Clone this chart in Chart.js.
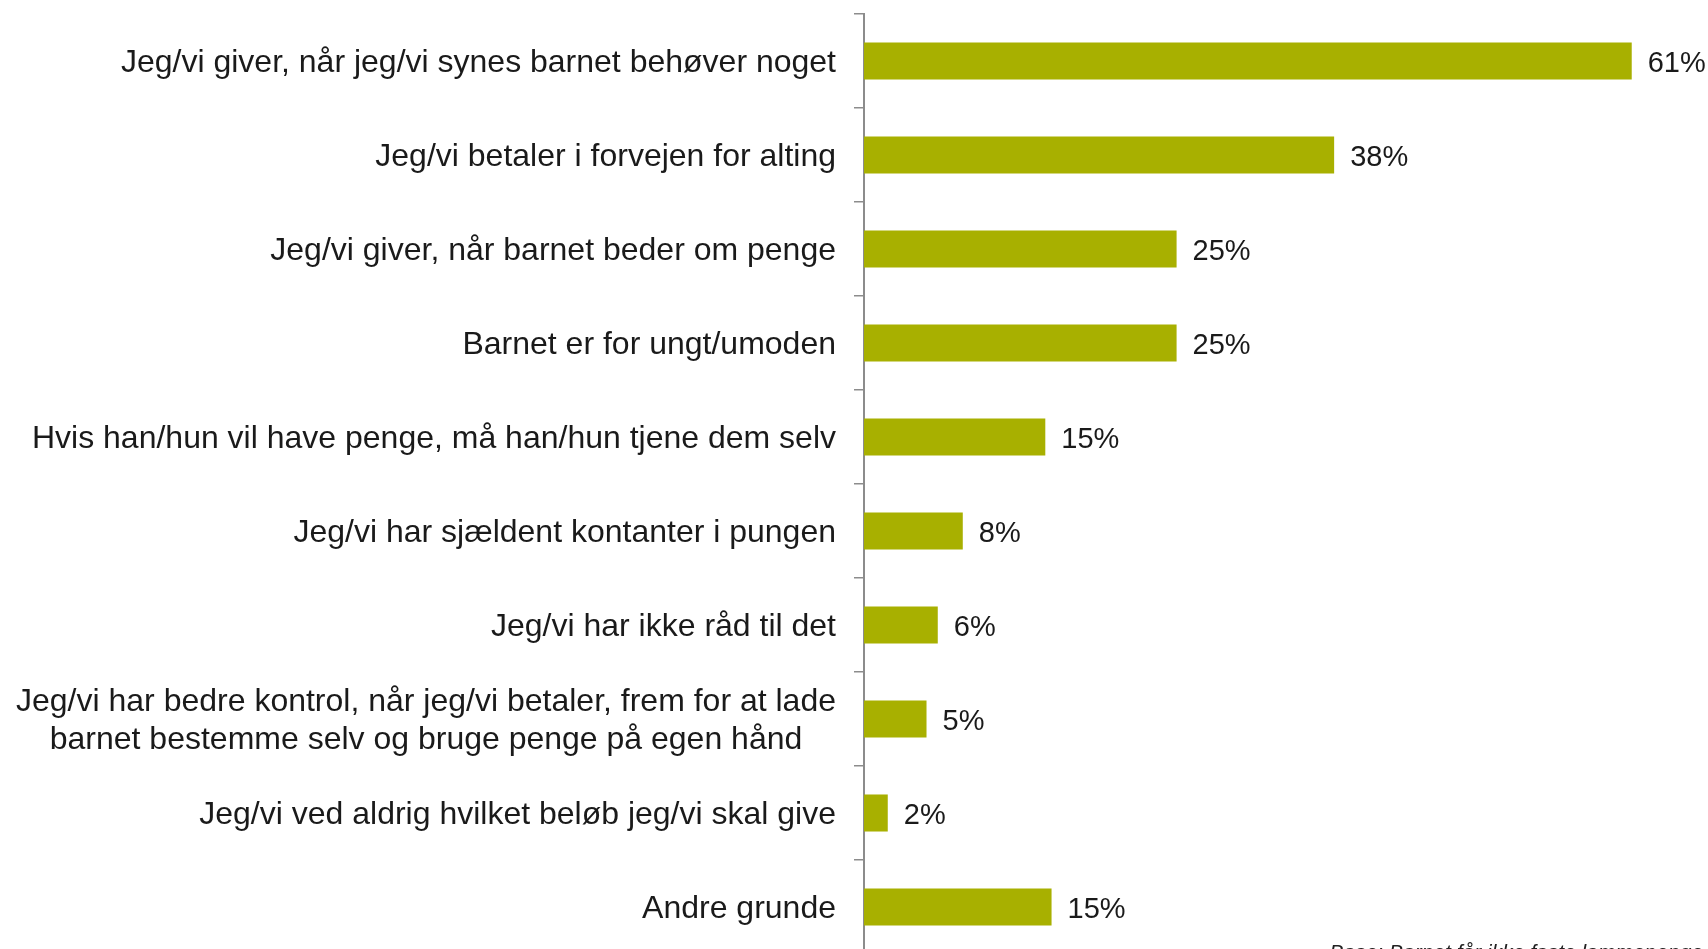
<!DOCTYPE html>
<html>
<head>
<meta charset="utf-8">
<script src="https://cdn.jsdelivr.net/npm/chart.js@4/dist/chart.umd.min.js"></script>
<style>
  html, body { margin: 0; padding: 0; background: #fff; overflow: hidden; width: 1708px; height: 949px; }
  #wrap { position: relative; width: 1708px; height: 968px; }
</style>
</head>
<body>
<div id="wrap"><canvas id="c"></canvas></div>
<script>
const categories = [
  "Jeg/vi giver, når jeg/vi synes barnet behøver noget",
  "Jeg/vi betaler i forvejen for alting",
  "Jeg/vi giver, når barnet beder om penge",
  "Barnet er for ungt/umoden",
  "Hvis han/hun vil have penge, må han/hun tjene dem selv",
  "Jeg/vi har sjældent kontanter i pungen",
  "Jeg/vi har ikke råd til det",
  ["Jeg/vi har bedre kontrol, når jeg/vi betaler, frem for at lade", "barnet bestemme selv og bruge penge på egen hånd"],
  "Jeg/vi ved aldrig hvilket beløb jeg/vi skal give",
  "Andre grunde"
];
const values = [61.4, 37.6, 25.0, 25.0, 14.5, 7.9, 5.9, 5.0, 1.9, 15.0];
const valueLabels = ["61%", "38%", "25%", "25%", "15%", "8%", "6%", "5%", "2%", "15%"];
const footnote = "Base: Barnet får ikke faste lommepenge";

const FONT = '"Liberation Sans", Arial, sans-serif';

const labelPlugin = {
  id: 'labels',
  afterDraw(chart) {
    const ctx = chart.ctx;
    const y = chart.scales.y;
    const meta = chart.getDatasetMeta(0);
    ctx.save();
    ctx.fillStyle = '#1a1a1a';
    // category labels
    ctx.font = '32px ' + FONT;
    ctx.textBaseline = 'middle';
    ctx.textAlign = 'center';
    const right = chart.chartArea.left - 28;
    const lh = 38;
    categories.forEach((lab, i) => {
      const lines = Array.isArray(lab) ? lab : [lab];
      const w = Math.max(...lines.map(l => ctx.measureText(l).width));
      const cx = right - w / 2;
      const cy = y.getPixelForValue(i);
      lines.forEach((l, k) => {
        ctx.fillText(l, cx, cy + (k - (lines.length - 1) / 2) * lh + 2);
      });
    });
    // value labels
    ctx.font = '29px ' + FONT;
    ctx.textAlign = 'left';
    meta.data.forEach((el, i) => {
      ctx.fillText(valueLabels[i], el.x + 16, el.y + 3);
    });
    // footnote
    ctx.font = 'italic 21px ' + FONT;
    ctx.textAlign = 'right';
    ctx.textBaseline = 'alphabetic';
    ctx.fillStyle = '#222';
    ctx.fillText(footnote, 1703, 959);
    ctx.restore();
  }
};

new Chart(document.getElementById('c'), {
  type: 'bar',
  data: {
    labels: categories,
    datasets: [{
      data: values,
      backgroundColor: '#A8B000',
      borderWidth: 0,
      barPercentage: 0.394,
      categoryPercentage: 1.0
    }]
  },
  options: {
    indexAxis: 'y',
    responsive: true,
    maintainAspectRatio: false,
    animation: false,
    layout: { padding: { top: 14, bottom: 14, left: 0, right: 0 } },
    plugins: { legend: { display: false }, tooltip: { enabled: false } },
    scales: {
      x: { display: false, min: 0, max: 67.5 },
      y: {
        type: 'category',
        offset: true,
        afterFit(s) { s.width = 864; },
        ticks: { display: false },
        grid: {
          display: true,
          offset: true,
          drawOnChartArea: false,
          drawTicks: true,
          tickLength: 10,
          color: '#8c8c8c',
          lineWidth: 1.5
        },
        border: { display: true, color: '#8c8c8c', width: 2 }
      }
    }
  },
  plugins: [labelPlugin]
});
</script>
</body>
</html>
